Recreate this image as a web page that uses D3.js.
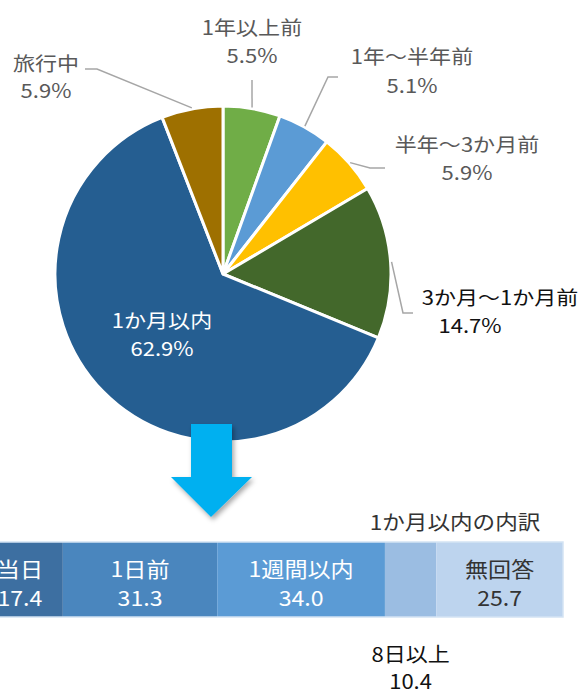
<!DOCTYPE html>
<html>
<head>
<meta charset="utf-8">
<script src="https://cdn.jsdelivr.net/npm/d3@7"></script>
<style>
  body { margin:0; background:#fff; }
  text { font-family: "Noto Sans CJK JP", "Noto Sans", sans-serif; }
</style>
</head>
<body>
<div id="Canvas"></div>
<script>
// data
let pieLabels = ["1年以上前", "1年～半年前", "半年～3か月前", "3か月～1か月前", "1か月以内", "旅行中"]
let pieValues = [5.5, 5.1, 5.9, 14.7, 62.9, 5.9]
let pieColors = ["#70AD47", "#5B9BD5", "#FFC000", "#43682B", "#255E91", "#9E7000"]

let barLabels = ["当日", "1日前", "1週間以内", "8日以上", "無回答"]
let barValues = [17.4, 31.3, 34.0, 10.4, 25.7]
let barColors = ["#3D6FA1", "#4A86BE", "#5B9BD5", "#9BBDE2", "#BDD4EE"]
let barTitle = "1か月以内の内訳"

let svg = d3.select("#Canvas")
    .append("svg")
    .attr("width", 585)
    .attr("height", 695)

let defs = svg.append("defs")
defs.append("filter")
    .attr("id", "shadow")
    .attr("x", "-30%").attr("y", "-30%").attr("width", "160%").attr("height", "160%")
    .append("feDropShadow")
    .attr("dx", 2).attr("dy", 3).attr("stdDeviation", 2.5)
    .attr("flood-color", "#000").attr("flood-opacity", 0.35)

// text is a bit wider than tall in the original, so stretch it sideways
function addText(x, y, str, size, color, sx) {
    svg.append("text")
        .attr("transform", `translate(${x},${y}) scale(${sx},1)`)
        .attr("text-anchor", "middle")
        .attr("dominant-baseline", "central")
        .attr("font-size", size)
        .attr("fill", color)
        .text(str)
}

// pie
let cx = 223, cy = 274, R = 168
let pie = d3.pie().sort(null).value(d => d)
let arcs = pie(pieValues)
let arc = d3.arc().innerRadius(0).outerRadius(R)

let pg = svg.append("g").attr("transform", `translate(${cx},${cy})`)
pg.selectAll("path")
    .data(arcs)
    .enter()
    .append("path")
    .attr("d", arc)
    .attr("fill", (d, i) => pieColors[i])
    .attr("stroke", "#fff")
    .attr("stroke-width", 3)
    .attr("stroke-linejoin", "round")

// label layout (text center x for each line, line y, leader points)
let labelPos = [
    {x: [252, 252], y: [27, 55], lead: [[252, 80]]},
    {x: [412, 412], y: [56, 85], lead: [[328, 77], [338, 77]]},
    {x: [467, 467], y: [144, 172], lead: [[370, 168], [385, 168]]},
    {x: [500, 470], y: [297, 325], lead: [[403, 313], [413, 313]], dark: true},
    {x: [162, 162], y: [320, 348], inside: true},
    {x: [46, 46], y: [63, 90], lead: [[97, 69], [85, 69]]}
]

arcs.forEach((d, i) => {
    let p = labelPos[i]
    if (p.lead) {
        let a = (d.startAngle + d.endAngle) / 2
        let start = [cx + (R + 1) * Math.sin(a), cy - (R + 1) * Math.cos(a)]
        let pts = [start].concat(p.lead)
        svg.append("path")
            .attr("d", d3.line()(pts))
            .attr("fill", "none")
            .attr("stroke", "#A6A6A6")
            .attr("stroke-width", 1.5)
    }
    let col = p.inside ? "#fff" : (p.dark ? "#111" : "#595959")
    let lines = [pieLabels[i], d3.format(".1f")(pieValues[i]) + "%"]
    lines.forEach((t, k) => addText(p.x[k], p.y[k], t, 19.5, col, 1.13))
})

// bar
let total = d3.sum(barValues)
let xScale = d3.scaleLinear()
    .domain([0, total])
    .range([-23, 563])
let cum = 0
let segs = barValues.map((v, i) => {
    let s = {label: barLabels[i], value: v, x0: cum, x1: cum + v, i: i}
    cum += v
    return s
})
let barY = 542, barH = 75

svg.selectAll("rect.seg")
    .data(segs)
    .enter()
    .append("rect")
    .attr("class", "seg")
    .attr("x", d => xScale(d.x0))
    .attr("y", barY)
    .attr("width", d => xScale(d.x1) - xScale(d.x0))
    .attr("height", barH)
    .attr("fill", d => barColors[d.i])
svg.append("rect")
    .attr("x", xScale(0))
    .attr("y", barY)
    .attr("width", xScale(total) - xScale(0))
    .attr("height", barH)
    .attr("fill", "none")
    .attr("stroke", "#D4E3F3")
    .attr("stroke-width", 1.5)

segs.forEach(d => {
    let mx = (xScale(d.x0) + xScale(d.x1)) / 2
    let lines = [d.label, d3.format(".1f")(d.value)]
    if (d.i == 3) {
        // small segment: label below the bar
        lines.forEach((t, k) => addText(mx, 653 + k * 27, t, 20, "#111", 1.1))
    } else {
        lines.forEach((t, k) => addText(mx, 567 + k * 29, t, 21, d.i == 4 ? "#333" : "#fff", 1.1))
    }
})

addText(455, 521, barTitle, 20, "#333", 1.13)

// arrow
let arrowPts = [[191, 424], [232, 424], [232, 477], [252, 477], [211, 517], [171, 477], [191, 477]]
svg.append("path")
    .attr("d", d3.line()(arrowPts) + "Z")
    .attr("fill", "#00B0F0")
    .attr("filter", "url(#shadow)")
</script>
</body>
</html>
